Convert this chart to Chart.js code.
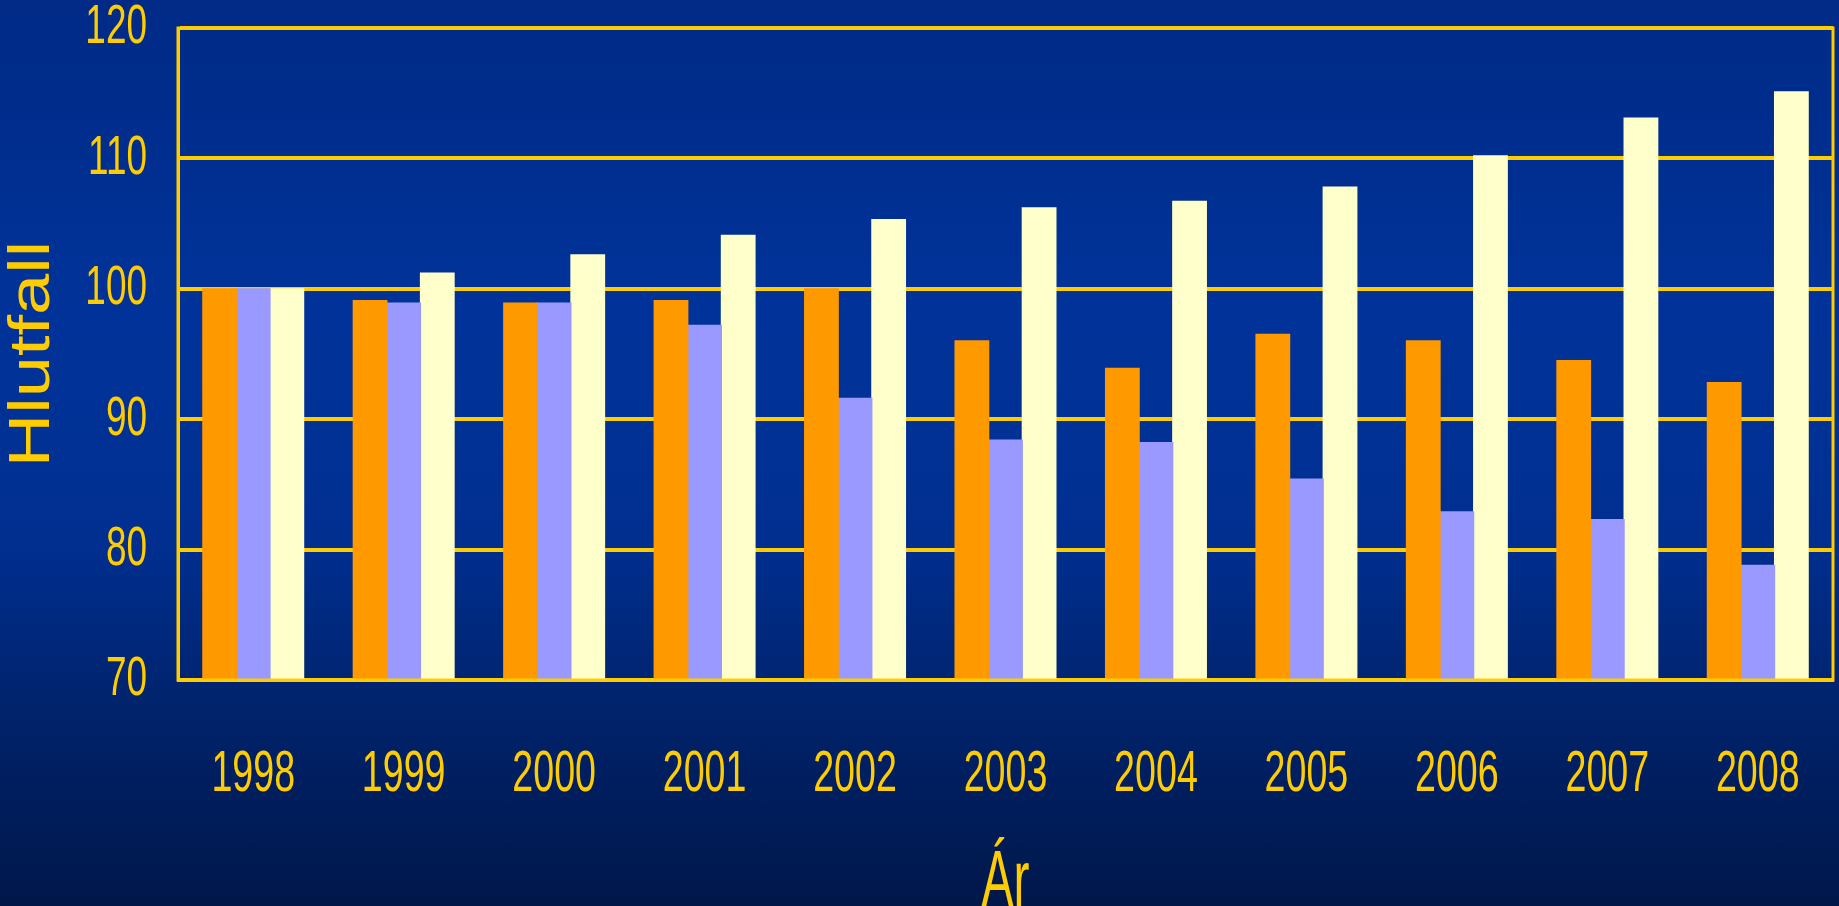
<!DOCTYPE html>
<html>
<head>
<meta charset="utf-8">
<script src="https://cdn.jsdelivr.net/npm/chart.js@4/dist/chart.umd.min.js"></script>
<style>
  html, body { margin: 0; padding: 0; }
  body {
    width: 1839px; height: 906px; overflow: hidden;
    background: linear-gradient(to bottom, #002a86 0%, #00339a 35%, #002f90 60%, #00236c 78%, #00174a 100%);
  }
  canvas { display: block; }
</style>
</head>
<body>
<canvas id="chart" width="1839" height="906" style="width:1839px;height:906px"></canvas>
<script>
const years = ["1998", "1999", "2000", "2001", "2002", "2003", "2004", "2005", "2006", "2007", "2008"];
const orangeSeries = [100, 99.1, 98.9, 99.1, 100, 96.0, 93.9, 96.5, 96.0, 94.5, 92.8];
const purpleSeries = [100, 98.9, 98.9, 97.2, 91.6, 88.4, 88.2, 85.4, 82.9, 82.3, 78.8];
const creamSeries = [100, 101.2, 102.6, 104.1, 105.3, 106.2, 106.7, 107.8, 110.2, 113.1, 115.1];
const yTicks = [70, 80, 90, 100, 110, 120];

const gold = "#ffcc00";
const font = "'Liberation Sans', Arial, sans-serif";

// the slide text is squeezed (ticks, "Ár") or stretched ("Hlutfall") sideways
const textWidth = { "Hlutfall": 1.3, "Ár": 0.6 };
const squeeze = {
  id: "squeeze",
  beforeDraw(chart) {
    const ctx = chart.ctx;
    const plain = CanvasRenderingContext2D.prototype.fillText;
    ctx.fillText = function (text, x, y) {
      const s = textWidth[text] || 0.66;
      this.save();
      this.translate(x, y);
      this.scale(s, 1);
      plain.call(this, text, 0, 0);
      this.restore();
    };
  },
  beforeDatasetsDraw(chart) {
    delete chart.ctx.fillText;
  }
};

// yellow frame round the plot area
const frame = {
  id: "frame",
  afterDatasetsDraw(chart) {
    const a = chart.chartArea;
    const ctx = chart.ctx;
    ctx.save();
    ctx.strokeStyle = gold;
    ctx.lineWidth = 3;
    ctx.strokeRect(a.left, a.top, a.right - a.left, a.bottom - a.top);
    ctx.restore();
  }
};

new Chart(document.getElementById("chart"), {
  type: "bar",
  data: {
    labels: years,
    datasets: [
      { data: orangeSeries, backgroundColor: "#ff9900" },
      { data: purpleSeries, backgroundColor: "#9999ff" },
      { data: creamSeries, backgroundColor: "#ffffcc" }
    ]
  },
  options: {
    responsive: false,
    animation: false,
    devicePixelRatio: 1,
    layout: { padding: { top: 28, right: 6, left: 0, bottom: 0 } },
    datasets: { bar: { categoryPercentage: 0.67, barPercentage: 1.0, borderWidth: 0, inflateAmount: 0.6 } },
    plugins: { legend: { display: false }, tooltip: { enabled: false } },
    scales: {
      x: {
        grid: { display: false },
        border: { display: true, color: gold, width: 3 },
        ticks: {
          color: gold,
          padding: 59,
          maxRotation: 0,
          autoSkip: false,
          font: { family: font, size: 57, lineHeight: 1 }
        },
        title: {
          display: true,
          text: "Ár",
          color: gold,
          padding: 0,
          font: { family: font, size: 80, lineHeight: 0.545 }
        },
        afterFit(scale) {
          scale.height = 226;
          scale.paddingLeft = 0;
          scale.paddingRight = 0;
        }
      },
      y: {
        min: 70,
        max: 120,
        afterBuildTicks(scale) {
          scale.ticks = yTicks.map(v => ({ value: v }));
        },
        grid: { color: gold, lineWidth: 4, drawTicks: false },
        border: { display: true, color: gold, width: 3 },
        ticks: {
          color: gold,
          padding: 31,
          font: { family: font, size: 56, lineHeight: 1 }
        },
        title: {
          display: true,
          text: "Hlutfall",
          color: gold,
          padding: { top: 5, bottom: 0 },
          font: { family: font, size: 57, lineHeight: 1 }
        },
        afterFit(scale) {
          scale.width = 178;
          scale.paddingTop = 0;
          scale.paddingBottom = 0;
        }
      }
    }
  },
  plugins: [squeeze, frame]
});
</script>
</body>
</html>
